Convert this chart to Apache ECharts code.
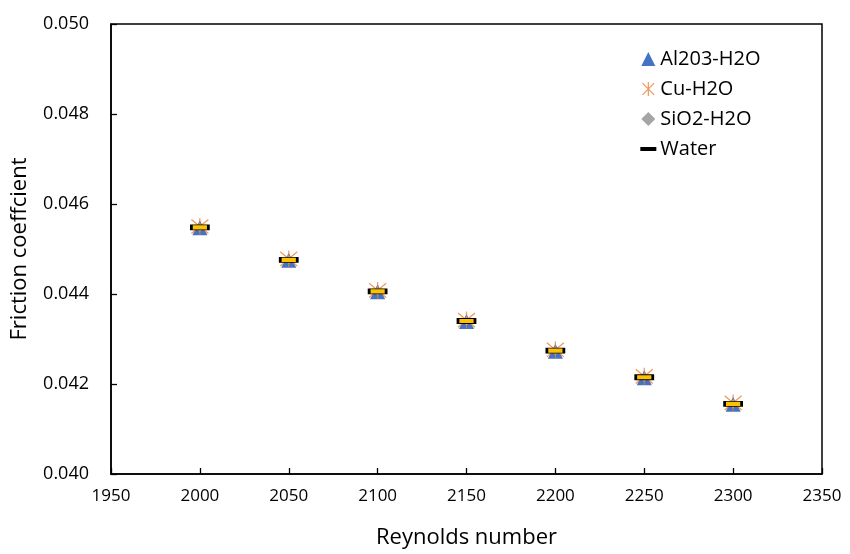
<!DOCTYPE html>
<html>
<head>
<meta charset="utf-8">
<script src="https://cdn.jsdelivr.net/npm/echarts@6/dist/echarts.min.js"></script>
<style>html,body{margin:0;padding:0;background:#fff}#c{width:850px;height:554px}</style>
</head>
<body>
<div id="c"></div>
<script>
const reynolds = [2000, 2050, 2100, 2150, 2200, 2250, 2300];
const al2o3 = [0.04547, 0.04475, 0.04405, 0.04339, 0.04273, 0.04214, 0.04155];
const cuH2O = [0.04550, 0.04478, 0.04408, 0.04342, 0.04276, 0.04217, 0.04158];
const sio2 = [0.04548, 0.04476, 0.04406, 0.04340, 0.04274, 0.04215, 0.04156];
const water = [0.04548, 0.04476, 0.04406, 0.04340, 0.04274, 0.04215, 0.04156];
const seriesNames = ['Al203-H2O', 'Cu-H2O', 'SiO2-H2O', 'Water'];

const pairs = arr => reynolds.map((r, i) => [r, arr[i]]);
const starPath = 'path://M0,0L10,10M10,0L0,10M5,-1L5,11';
const dashPath = 'path://M0,0L12,0L12,1.8L0,1.8Z';
const FONT = 'Open Sans';

const chart = echarts.init(document.getElementById('c'), null, {renderer: 'canvas'});
chart.setOption({
  animation: false,
  backgroundColor: '#fff',
  textStyle: {fontFamily: FONT},
  grid: {left: 111, right: 28, top: 24, bottom: 74, show: true, borderColor: '#000', borderWidth: 1.5},
  legend: {
    orient: 'vertical', left: 635, top: 44, itemGap: 10, itemWidth: 14, itemHeight: 14,
    textStyle: {fontSize: 20, color: '#000', fontFamily: FONT},
    data: [
      {name: seriesNames[0], icon: 'triangle', itemStyle: {color: '#4472C4'}},
      {name: seriesNames[1], icon: starPath, itemStyle: {color: 'none', borderColor: '#ED7D31', borderWidth: 1.2}},
      {name: seriesNames[2], icon: 'diamond', itemStyle: {color: '#A5A5A5'}},
      {name: seriesNames[3], icon: dashPath, itemStyle: {color: '#000'}}
    ]
  },
  xAxis: {
    type: 'value', min: 1950, max: 2350, interval: 50,
    name: 'Reynolds number', nameLocation: 'middle', nameGap: 53,
    nameTextStyle: {fontSize: 22, color: '#000', fontFamily: FONT},
    axisLine: {lineStyle: {color: '#000', width: 1.5}},
    axisTick: {inside: true, length: 6, lineStyle: {color: '#000', width: 1.3}},
    axisLabel: {fontSize: 17, color: '#000', margin: 14, formatter: v => String(v)},
    splitLine: {show: false}
  },
  yAxis: {
    type: 'value', min: 0.040, max: 0.050, interval: 0.002,
    name: 'Friction coeffcient', nameLocation: 'middle', nameGap: 80,
    nameTextStyle: {fontSize: 22, color: '#000', fontFamily: FONT},
    axisLine: {lineStyle: {color: '#000', width: 1.5}},
    axisTick: {inside: true, length: 6, lineStyle: {color: '#000', width: 1.3}},
    axisLabel: {fontSize: 18, color: '#000', margin: 22, formatter: v => v.toFixed(3)},
    splitLine: {show: false}
  },
  series: [
    {name: seriesNames[0], type: 'scatter', data: pairs(al2o3), symbol: 'triangle', symbolSize: [15, 15],
     itemStyle: {color: '#4472C4', opacity: 1}, z: 2},
    {name: seriesNames[1], type: 'scatter', data: pairs(cuH2O), symbol: starPath, symbolSize: [17, 17],
     itemStyle: {color: 'none', borderColor: '#ED7D31', borderWidth: 1.2, opacity: 0.8}, z: 3},
    {name: seriesNames[2], type: 'scatter', data: pairs(sio2), symbol: 'diamond', symbolSize: [9, 9],
     itemStyle: {color: '#A5A5A5', opacity: 1}, z: 4},
    {name: seriesNames[3], type: 'scatter', data: pairs(water), symbol: 'rect', symbolSize: [17, 5],
     itemStyle: {color: '#FFC000', borderColor: '#000', borderWidth: 1.5, opacity: 1}, z: 5}
  ]
});
</script>
</body>
</html>
